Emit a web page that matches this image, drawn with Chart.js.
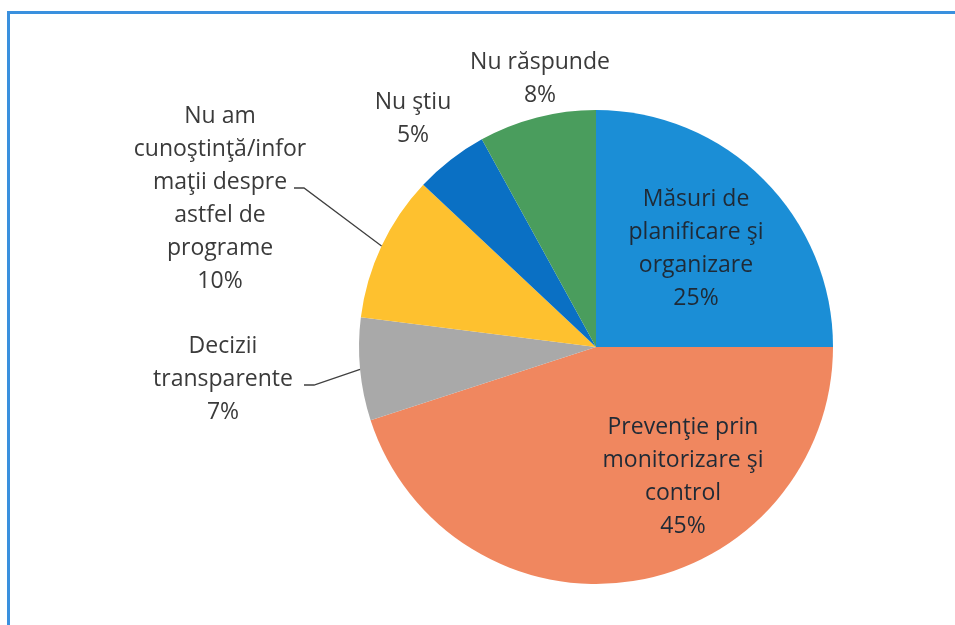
<!DOCTYPE html>
<html>
<head>
<meta charset="utf-8">
<script src="https://cdn.jsdelivr.net/npm/chart.js@4"></script>
<style>
  html, body { margin: 0; padding: 0; background: #fff; }
  #wrap { position: relative; width: 955px; height: 625px; overflow: hidden; }
  #frame {
    position: absolute; left: 7px; top: 11px; right: -10px; bottom: -10px;
    border-top: 3px solid #3a90de; border-left: 3px solid #3a90de;
  }
  canvas { position: absolute; left: 0; top: 0; }
</style>
</head>
<body>
<div id="wrap">
  <div id="frame"></div>
  <canvas id="chart" width="955" height="625"></canvas>
</div>
<script>
// categories, clockwise from the top
const categories = [
  ['Măsuri de', 'planificare şi', 'organizare'],
  ['Prevenţie prin', 'monitorizare şi', 'control'],
  ['Decizii', 'transparente'],
  ['Nu am', 'cunoştinţă/infor', 'maţii despre', 'astfel de', 'programe'],
  ['Nu ştiu'],
  ['Nu răspunde']
];
const percents = [25, 45, 7, 10, 5, 8];
const sliceColors = ['#1b8ed6', '#f0875f', '#a9a9a9', '#fec12f', '#0a70c4', '#4a9d5d'];

// label placement (offset from pie centre), leader elbow for outside labels
const labelSpots = [
  { dx: 100, dy: -98, inside: true },
  { dx: 87, dy: 130, inside: true },
  { dx: -373, dy: 32, line: [-292, 38, -282, 38] },
  { dx: -376, dy: -148, line: [-302, -159, -292, -159] },
  { dx: -183, dy: -228 },
  { dx: -56, dy: -268 }
];

const lineH = 33;
const font = '23px "Open Sans", Lato, sans-serif';

const labelPlugin = {
  id: 'pieLabels',
  afterDatasetsDraw(chart) {
    const ctx = chart.ctx;
    const arcs = chart.getDatasetMeta(0).data;
    ctx.save();
    ctx.font = font;
    ctx.textAlign = 'center';
    ctx.textBaseline = 'middle';
    arcs.forEach((arc, i) => {
      const spot = labelSpots[i];
      const lines = categories[i].concat([percents[i] + '%']);
      const cx = arc.x + spot.dx;
      const cy = arc.y + spot.dy;
      ctx.fillStyle = spot.inside ? '#1f2a36' : '#3a3a3a';
      const top = cy - (lines.length - 1) * lineH / 2;
      lines.forEach((t, k) => ctx.fillText(t, cx, top + k * lineH));
      if (spot.line) {
        const mid = (arc.startAngle + arc.endAngle) / 2;
        const ex = arc.x + Math.cos(mid) * arc.outerRadius;
        const ey = arc.y + Math.sin(mid) * arc.outerRadius;
        ctx.strokeStyle = '#404040';
        ctx.lineWidth = 1.3;
        ctx.beginPath();
        ctx.moveTo(arc.x + spot.line[0], arc.y + spot.line[1]);
        ctx.lineTo(arc.x + spot.line[2], arc.y + spot.line[3]);
        ctx.lineTo(ex, ey);
        ctx.stroke();
      }
    });
    ctx.restore();
  }
};

new Chart(document.getElementById('chart'), {
  type: 'pie',
  data: {
    labels: categories.map(c => c.join(' ')),
    datasets: [{
      data: percents,
      backgroundColor: sliceColors,
      borderWidth: 0,
      hoverOffset: 0
    }]
  },
  options: {
    responsive: false,
    animation: false,
    layout: { padding: { left: 359, right: 122, top: 110, bottom: 41 } },
    plugins: {
      legend: { display: false },
      tooltip: { enabled: false }
    }
  },
  plugins: [labelPlugin]
});
</script>
</body>
</html>
